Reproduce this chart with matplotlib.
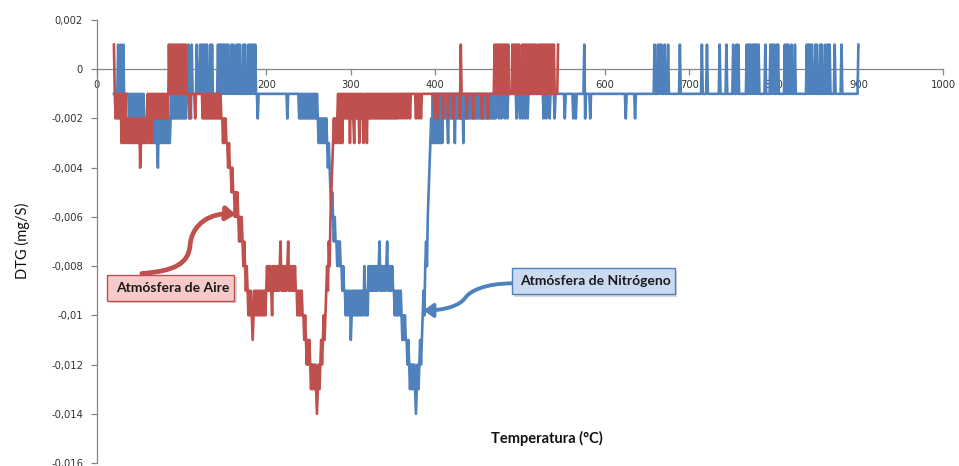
import numpy as np
import matplotlib
matplotlib.use("Agg")
import matplotlib.pyplot as plt
from matplotlib.path import Path
from matplotlib.patches import FancyArrowPatch, Rectangle

# ---------------- data (DTG in units of 0.001 mg/s, coded per 1 °C sample) ----------------
# code -> level: '+'=+1, '0'=0, '1'..'9'=-1..-9, 'a'..'e'=-10..-14
LEVEL = {'+': 1, '0': 0, '1': -1, '2': -2, '3': -3, '4': -4, '5': -5, '6': -6,
         '7': -7, '8': -8, '9': -9, 'a': -10, 'b': -11, 'c': -12, 'd': -13, 'e': -14}

# Atmósfera de Aire (red)
red_start = [20, 21, 28, 34, 36, 51, 52, 60, 66, 84, 107, 124, 148, 154, 158, 162, 167,
             172, 175, 178, 184, 185, 201, 207, 208, 217, 218, 226, 227, 236, 244, 247,
             252, 260, 261, 264, 279, 285, 292, 299, 300, 304, 305, 310, 311, 315, 316,
             319, 320, 357, 371, 375, 376, 386, 396, 397, 398, 402, 408, 414, 420, 428,
             436, 444, 454, 461, 469, 470, 488, 491, 500, 503, 520, 522, 542, 544]
red_codes = ["+", "1212121", "131313", "13", "232323232323232", "4", "32323232", "131313",
             "121212121212121212", "2+1+1+1+1+1+1+1+1+1+1+1", "11121111121111111",
             "121212121212121212121212", "232323", "3434", "4545", "56565", "67676",
             "787", "898", "9a9a9a", "b", "a9a9a9a9a9a9a9a9", "898989", "a", "898989898",
             "7", "98989898", "7", "989898989", "9a9a9a9a", "aba", "bcbcb", "cdcdcdcd",
             "e", "dcd", "cbcbaba98978654", "323232", "1313131", "1212121", "3", "1212",
             "3", "12121", "3", "1212", "3", "121", "3",
             "1212121212121212121212121212121212121", "12112112112112", "1", "1",
             "1211211211", "1", "1", "1", "121", "121", "121", "121", "121", "12+1",
             "121", "121", "121", "121", "1", "+1+1+1+1+1+1+1+1+1", "111", "+1+1+1+1+",
             "111", "+1+1+1+1+1+1+1+1+", "11", "+1+1+1+1+1+1+1+1+1+1", "1", "1+"]

# Atmósfera de Nitrógeno (blue)
blue_start = [20, 24, 36, 37, 57, 66, 72, 73, 88, 107, 112, 118, 122, 134, 143, 155, 159,
              161, 165, 167, 169, 173, 175, 179, 181, 183, 185, 187, 190, 224, 237, 238,
              261, 272, 280, 293, 300, 301, 316, 321, 334, 335, 343, 344, 351, 360, 366,
              369, 377, 378, 382, 395, 397, 409, 415, 416, 423, 424, 433, 434, 474, 477,
              481, 484, 495, 499, 502, 505, 508, 527, 530, 534, 540, 552, 562, 565, 575,
              582, 624, 635, 658, 662, 670, 674, 688, 714, 720, 735, 743, 751, 755, 767,
              789, 795, 802, 812, 820, 824, 838, 848, 854, 860, 863, 871, 879, 899]
blue_codes = ["1", "1+11+11+1", "1", "12121212121212121212", "222222222", "232323", "4",
              "232323232323232", "1212121212121212121", "1+212", "+11111", "+111",
              "+1+1+1+1+111", "+1+111111", "+1+1+1+1+1+1", "+111", "+1", "+111", "+1",
              "+1", "+111", "+1", "+111", "+1", "+1", "+1", "+1", "+11", "21", "121", "1",
              "12121212121212121212121", "23232323232", "34345656", "7677878788989",
              "9a9a9a9", "b", "a9a9a9a9a9a9a9a", "89a9a", "8989898989898", "7",
              "98989898", "7", "9898989", "9a9a9a9a9", "ababab", "bcb", "cdcdcdcd", "e",
              "dcdc", "bcba9a8786543", "23", "131313131313", "121212", "3", "1212121",
              "3", "121212121", "3", "121212121212121212121212121212121212121",
              "121", "121", "121", "121", "121", "121", "121", "121", "121", "121", "121",
              "121", "121", "121", "121", "121", "1+21", "121", "121", "121",
              "1+1", "1+1+1+1", "1+1", "1+1", "1+1", "1+1", "1+1", "1+1", "1+1", "1+1",
              "1+1+1", "1+1+1+1+1+1+1+1+1", "1+1", "1+1+1+1", "1+1+1", "1+1+1+1", "1+1",
              "1+1", "1+1+1+1+1", "1+1+1", "1+1+1", "1+1", "1+1+1", "1+1", "1+1", "1+"]

x_ticks = [0, 100, 200, 300, 400, 500, 600, 700, 800, 900, 1000]
y_ticks = [-0.016, -0.014, -0.012, -0.010, -0.008, -0.006, -0.004, -0.002, 0.0, 0.002]
y_tick_labels = ["-0,016", "-0,014", "-0,012", "-0,01", "-0,008", "-0,006", "-0,004",
                 "-0,002", "0", "0,002"]

label_air = "Atmósfera de Aire"
label_n2 = "Atmósfera de Nitrógeno"


def decode(starts, codes):
    T, V = [], []
    for s, c in zip(starts, codes):
        for i, ch in enumerate(c):
            T.append(s + i)
            V.append(LEVEL[ch] * 0.001)
    T = np.array(T, dtype=float)
    bad = np.where(np.diff(T) <= 0)[0]
    if len(bad):
        raise ValueError("overlap at " + str([T[b] for b in bad]))
    return T, np.array(V)


T_red, V_red = decode(red_start, red_codes)
T_blue, V_blue = decode(blue_start, blue_codes)

RED = "#C0504D"
BLUE = "#4F81BD"
GRID = "#868686"

fig = plt.figure(figsize=(9.59, 4.66), dpi=100)
ax = fig.add_axes([97 / 959, 3 / 466, (943 - 97) / 959, (463 - 20) / 466])

ax.plot(T_blue, V_blue, color=BLUE, lw=1.9, zorder=2)
ax.plot(T_red, V_red, color=RED, lw=1.9, zorder=3)

ax.set_xlim(0, 1000)
ax.set_ylim(-0.016, 0.002)

for s in ["top", "right"]:
    ax.spines[s].set_visible(False)
ax.spines["bottom"].set_position(("data", 0))
ax.spines["bottom"].set_color(GRID)
ax.spines["left"].set_color(GRID)
ax.spines["bottom"].set_linewidth(0.9)
ax.spines["left"].set_linewidth(0.9)
ax.spines["bottom"].set_zorder(1)

ax.set_xticks(x_ticks)
ax.set_xticklabels([str(v) for v in x_ticks])
ax.set_yticks(y_ticks)
ax.set_yticklabels(y_tick_labels)
ax.tick_params(axis="both", direction="out", length=4, width=0.9, color=GRID,
               labelsize=7.2, labelcolor="#333333")
ax.tick_params(axis="x", pad=4)
ax.tick_params(axis="y", pad=6)

fig.text(22 / 959, 1 - 241 / 466, "DTG (mg/S)", rotation=90, ha="center", va="center",
         fontsize=10.5, family=["Lato", "DejaVu Sans"], color="#111111")
fig.text(547 / 959, 1 - 438 / 466, "Temperatura (°C)", ha="center", va="center",
         fontsize=10.5, fontweight="bold", family=["Lato", "DejaVu Sans"], color="#111111")

# annotation boxes (data coordinates)
box_air = (12, -0.0094, 150, 0.00103)
box_n2 = (490, -0.00915, 193, 0.00106)


def draw_box(b, face, edge, text):
    x0, y0, w, h = b
    sh = Rectangle((x0 + 3, y0 - 0.00009), w, h, facecolor="#000000", alpha=0.15,
                   edgecolor="none", zorder=5)
    ax.add_patch(sh)
    r = Rectangle((x0, y0), w, h, facecolor=face, edgecolor=edge, lw=1.0, zorder=6)
    ax.add_patch(r)
    ax.text(x0 + w / 2 + 3, y0 + h / 2, text, ha="center", va="center", fontsize=10,
            fontweight="bold", family=["Lato", "DejaVu Sans"], color="#1a1a1a", zorder=7)


draw_box(box_air, "#F7C9C8", "#C0504D", label_air)
draw_box(box_n2, "#C9DAF1", "#4F81BD", label_n2)

arrow_air = [(53, -0.0083), (92, -0.0082), (108, -0.0079), (110, -0.00715),
             (112, -0.0063), (134, -0.0058), (164, -0.0059)]
arrow_n2 = [(492, -0.0087), (459, -0.0087), (441, -0.0090), (435, -0.0093),
            (429, -0.0096), (411, -0.0098), (386, -0.0098)]
codes7 = [Path.MOVETO, Path.CURVE4, Path.CURVE4, Path.CURVE4,
          Path.CURVE4, Path.CURVE4, Path.CURVE4]

for verts, col, lw in [(arrow_air, RED, 3.4), (arrow_n2, BLUE, 2.8)]:
    p = FancyArrowPatch(path=Path(verts, codes7), arrowstyle="-|>,head_length=5.5,head_width=4",
                        color=col, lw=lw, transform=ax.transData, zorder=5,
                        shrinkA=0, shrinkB=0)
    ax.add_patch(p)

fig.savefig("out.png", dpi=100)
